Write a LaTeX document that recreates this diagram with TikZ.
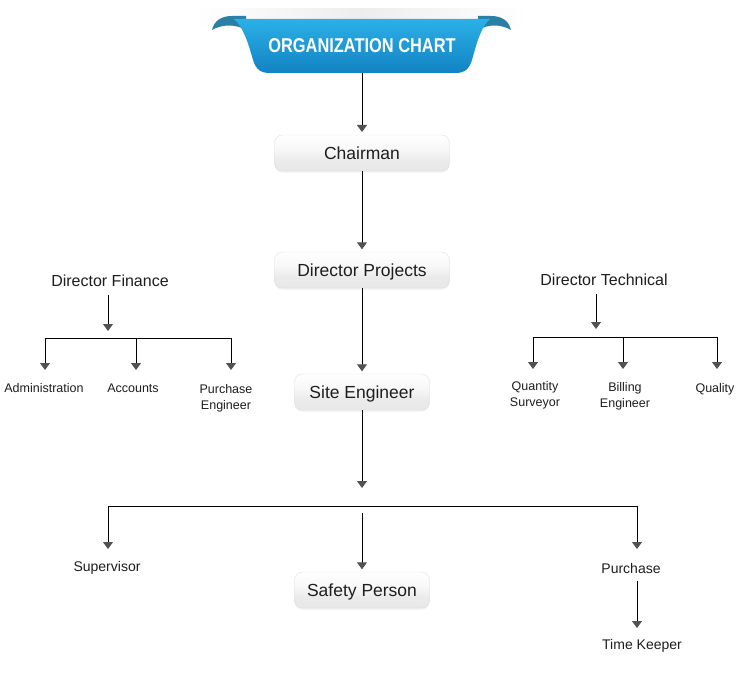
\documentclass[tikz,border=0pt]{standalone}
\usepackage{fontspec}
\setmainfont{Liberation Sans}
\usetikzlibrary{arrows.meta,shadows}
\definecolor{txt}{HTML}{1E1E1E}
\definecolor{bluetop}{HTML}{2BB0E8}
\definecolor{bluebot}{HTML}{1283C2}
\definecolor{curl}{HTML}{2A7FA6}
\pgfdeclareverticalshading{gloss}{100bp}{color(0bp)=(black!11); color(40bp)=(black!8); color(55bp)=(black!3); color(75bp)=(white); color(100bp)=(white)}
\begin{document}
\begin{tikzpicture}[x=1pt,y=-1pt,
  every node/.style={text=txt, inner sep=0pt},
  box/.style={rounded corners=8pt, draw=black!12, shading=gloss, minimum height=36pt,
    text height=13pt, text depth=0.4pt,
    font=\fontsize{17.5}{20}\selectfont, drop shadow={opacity=0.12, shadow xshift=0pt, shadow yshift=-1.5pt}},
  widebox/.style={box, minimum width=175pt},
  narrowbox/.style={box, minimum width=135pt},
  head/.style={font=\fontsize{16}{19}\selectfont},
  lbl/.style={font=\fontsize{12.5}{16}\selectfont, align=center},
  blbl/.style={font=\fontsize{14}{17}\selectfont, align=center},
  conn/.style={draw=black, line width=0.9pt},
  arr/.style={conn, -{Triangle[width=10pt,length=7pt,color=black!68]}},
]
\useasboundingbox (0,0) rectangle (744,674);
\fill[white] (0,0) rectangle (744,674);
% shadow band behind banner
\shade[left color=white, right color=white, middle color=black!7] (196,9) rectangle (528,28);
% banner curls
\fill[curl] (212,30) .. controls (214,21) and (221,16) .. (232,16) -- (246,16) -- (246,30) .. controls (236,24) and (222,24) .. (212,30) -- cycle;
\fill[curl] (511,30) .. controls (509,21) and (502,16) .. (491,16) -- (478,16) -- (478,30) .. controls (488,24) and (501,24) .. (511,30) -- cycle;
% banner body
\shade[top color=bluetop, bottom color=bluebot]
  (234,19) -- (490,19) .. controls (481,27) and (477,42) .. (472,60) .. controls (469,69) and (465,73) .. (455,73)
  -- (270,73) .. controls (260,73) and (256,69) .. (253,60) .. controls (248,42) and (243,27) .. (234,19) -- cycle;
\node (banner) at (362,46) {\fontsize{20}{22}\selectfont\bfseries\color{white}\scalebox{0.82}[1]{ORGANIZATION CHART}};
\coordinate (bannerbot) at (362,73);

% main column
\node[widebox] (chair) at (362,153) {Chairman};
\node[widebox] (dproj) at (362,270) {Director Projects};
\node[narrowbox] (site) at (362,392) {Site Engineer};
\node[narrowbox] (safety) at (362,590) {Safety Person};

\draw[arr] (bannerbot) -- (362,132);
\draw[arr] (chair.south) -- ([yshift=2.5pt]dproj.north);
\draw[arr] (dproj.south) -- ([yshift=2.5pt]site.north);
\coordinate (sitearr) at (362,488);
\draw[arr] (site.south) -- (sitearr);

% bottom branch
\coordinate (bl) at (108,506);
\coordinate (br) at (637,506);
\draw[conn] (bl) -- (br);
\node[blbl] (sup) at (107,568) {Supervisor};
\node[blbl] (purch) at (631,568) {Purchase};
\node[blbl] (tk) at (642,646) {Time Keeper};
\draw[arr] (bl) -- (108,549);
\draw[arr] (br) -- (637,549);
\coordinate (midtop) at (362,513);
\draw[arr] (midtop) -- ([yshift=2.5pt]safety.north);
\draw[arr] ([yshift=-8pt]purch.south -| br) -- (637,628);

% Director Finance
\node[head] (dfin) at (110,281) {Director Finance};
\coordinate (dfinarr) at (108,331);
\draw[arr] ([yshift=-8pt]dfin.south -| dfinarr) -- (dfinarr);
\coordinate (f1) at (45,338);
\coordinate (f2) at (136,338);
\coordinate (f3) at (231,338);
\draw[conn] (f1) -- (f3);
\draw[arr] (f1) -- (45,370);
\draw[arr] (f2) -- (136,370);
\draw[arr] (f3) -- (231,370);
\node[lbl] (adm) at (44,388) {Administration};
\node[lbl] (acc) at (133,388) {Accounts};
\node[lbl] (pe) at (226,398) {Purchase\\Engineer};

% Director Technical
\node[head] (dtec) at (604,280) {Director Technical};
\coordinate (dtecarr) at (596,329);
\draw[arr] ([yshift=-8pt]dtec.south -| dtecarr) -- (dtecarr);
\coordinate (t1) at (533,337);
\coordinate (t2) at (623,337);
\coordinate (t3) at (717,337);
\draw[conn] (t1) -- (t3);
\draw[arr] (t1) -- (533,369);
\draw[arr] (t2) -- (623,369);
\draw[arr] (t3) -- (717,369);
\node[lbl] (qs) at (535,395) {Quantity\\Surveyor};
\node[lbl] (be) at (625,396) {Billing\\Engineer};
\node[lbl] (qual) at (715,389) {Quality};
\end{tikzpicture}
\end{document}
